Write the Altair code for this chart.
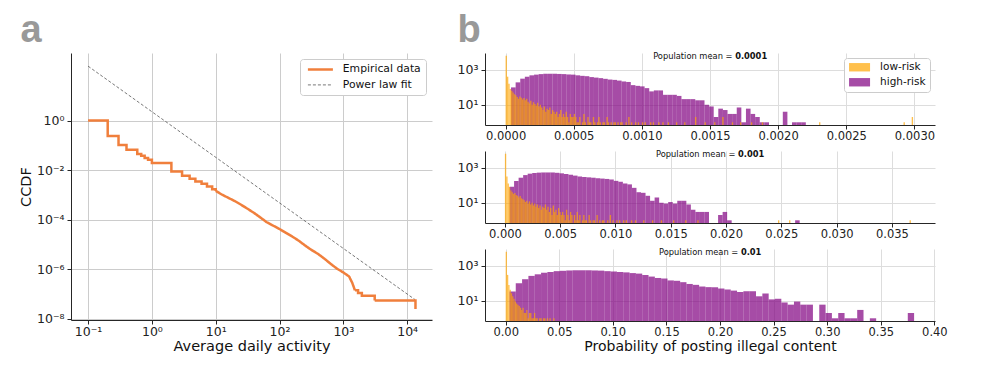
import altair as alt
import pandas as pd

FONT = "DejaVu Sans"

# ---------------- Panel a: CCDF of average daily activity ----------------
series_names = ["Empirical data", "Power law fit"]
emp_x = [0.1, 0.203, 0.30, 0.40, 0.59, 0.68, 0.77, 0.87, 1.0, 2.02, 2.97, 3.9, 4.8, 6.0, 7.3, 8.8,
         10, 12.6, 15.8, 20, 25, 31.6, 40, 50, 63, 79, 100, 126, 158, 200, 251, 316, 398, 501,
         631, 794, 1000, 1230, 1380, 1520, 1700, 1950, 3100, 13500]
emp_y = [1.0, 0.24, 0.104, 0.066, 0.045, 0.038, 0.031, 0.026, 0.0196, 0.0088, 0.006, 0.0045,
         0.0035, 0.0028, 0.0022, 0.0017,
         1.45e-3, 1.02e-3, 7.6e-4, 5.6e-4, 4.0e-4, 2.75e-4, 1.86e-4, 1.23e-4, 7.9e-5, 5.8e-5,
         4.2e-5, 2.95e-5, 2.1e-5, 1.41e-5, 9.1e-6, 6.0e-6, 4.2e-6, 2.7e-6, 1.66e-6, 1.05e-6,
         7.4e-7, 5.1e-7, 2.8e-7, 1.4e-7, 1.1e-7, 8.5e-8, 5.4e-8, 2.5e-8]
# activity range where the empirical CCDF is dense enough to look continuous
smooth_range = [10, 1520]
fit_x = [0.1, 13300]
fit_y = [158, 5.9e-8]
a_xticks = [0.1, 1, 10, 100, 1000, 10000]
a_yticks = [1e-8, 1e-6, 1e-4, 1e-2, 1]
panel_letters = ["a", "b"]

# ---------------- Panel b: histograms ----------------
risk_names = ["low-risk", "high-risk"]
means = ["0.0001", "0.001", "0.01"]
hi_start = [0.000040, 0.00042, 0.0035]
hi_width = [0.0000338, 0.00041, 0.0059]
hi_counts = [
    [98, 190, 309, 398, 479, 525, 562, 589, 589, 589,
     575, 562, 537, 525, 479, 447, 427, 380, 355, 331,
     302, 275, 263, 240, 214, 200, 132, 120, 112, 89,
     58, 66, 66, 37, 37, 37, 32, 21, 21, 21,
     18, 18, 10, 8, 2, 6, 5, 3, 3, 7,
     1, 6, 3, 2, 1, 1, 0, 0, 0, 4,
     0, 1, 1, 1],
    [81, 174, 269, 380, 457, 501, 525, 537, 537, 537,
     513, 479, 437, 398, 355, 316, 295, 282, 269, 251,
     240, 229, 214, 178, 158, 126, 112, 71, 40, 37,
     25, 13, 20, 10, 9, 11, 9, 13, 13, 8,
     4, 3, 3, 3, 0, 0, 2, 3, 1, 0,
     0, 0, 0, 0, 0, 0, 0, 0, 0, 0,
     0, 0, 0, 1],
    [34, 100, 170, 263, 324, 398, 437, 490, 513, 537,
     550, 550, 550, 537, 525, 490, 468, 437, 417, 380,
     355, 295, 240, 200, 186, 145, 138, 115, 91, 81,
     65, 60, 59, 50, 44, 38, 32, 35, 35, 18,
     26, 12, 13, 8, 6, 9, 6, 6, 0, 6,
     2, 1, 2, 1, 1, 3, 0, 1, 0, 0,
     0, 0, 0, 2],
]
lo_width = [0.00001, 0.00012, 0.0012]
lo_counts = [
    [6300, 400, 160, 80, 63, 50, 40, 35,
     28, 22, 30, 25, 20, 24, 18, 22,
     15, 12, 17, 10, 14, 11, 9, 13, 8, 10,
     7, 5, 8, 4, 6, 5, 7, 3, 5, 4,
     3, 4, 2, 3, 5, 2, 3, 2, 4, 2, 1, 3, 2, 2, 3,
     2, 1, 1, 2, 0, 1, 3, 1, 0, 2, 1, 1, 0, 2, 1, 0, 1, 2, 1, 0, 1, 1, 0, 2, 1, 0, 1, 0, 1, 1,
     0, 1, 0, 1, 1, 0, 0, 1, 0, 2, 0, 1, 0, 0, 1, 0, 1, 0, 0, 1,
     0, 1, 0, 0, 0, 1, 0, 1, 0, 0, 0, 1, 0, 0, 1, 0, 0, 0, 1, 0],
    [6300, 316, 126, 80, 50,
     40, 32, 36, 28,
     25, 20, 24, 18, 16,
     14, 11, 13, 9, 12, 8, 10,
     7, 9, 6, 8, 5, 7, 4, 6, 5, 8,
     4, 6, 3, 5, 2, 7, 3, 4, 2, 5, 3, 2,
     3, 2, 1, 4, 2, 1, 3, 2, 0, 2, 1, 3, 1, 2, 0, 1, 2, 1,
     1, 0, 2, 1, 0, 1, 1, 0, 2, 0, 1, 0, 1, 1, 0, 0, 1, 0, 2, 0, 1, 0, 0, 1, 0,
     1, 0, 0, 1, 0, 1, 0, 0, 0, 1, 0, 0, 1, 0, 0],
    [6300, 300, 80, 42, 27, 18, 13, 9, 7, 6, 5, 4, 3, 4, 2, 2, 3, 1, 2, 2,
     1, 1, 2, 1, 1, 0, 1, 1, 0, 1, 1, 0, 1, 0, 1, 0, 0, 1],
]
lo_tail = [
    [(0.00125, 1), (0.00131, 1), (0.00139, 2), (0.00146, 1), (0.00153, 1), (0.00159, 2),
     (0.00166, 1), (0.00172, 1), (0.0018, 1), (0.00188, 1), (0.0023, 1), (0.00292, 1), (0.00298, 2)],
    [(0.0125, 1), (0.0133, 1), (0.0141, 1), (0.0152, 1), (0.0163, 1), (0.0174, 1),
     (0.0247, 1), (0.0257, 1), (0.0366, 1)],
    [],
]
x_domains = [[-0.000151, 0.003151], [-0.0018, 0.0389], [-0.0193, 0.4006]]
x_ticks = [[0, 0.0005, 0.001, 0.0015, 0.002, 0.0025, 0.003],
           [0, 0.005, 0.01, 0.015, 0.02, 0.025, 0.03, 0.035],
           [0, 0.05, 0.1, 0.15, 0.2, 0.25, 0.3, 0.35, 0.4]]
x_formats = [".4f", ".3f", ".2f"]
b_yticks = [10, 1000]
b_ydomain = [0.7, 9000]

ORANGE_LINE = "#F07F3C"
GRAY_FIT = "#555555"
HIST_COLORS = ["#FFA500", "#800080"]
LETTER_COLOR = "#999999"

# superscript label expression for log axes
sup = {"-": "⁻", "0": "⁰", "1": "¹", "2": "²", "3": "³", "4": "⁴",
       "5": "⁵", "6": "⁶", "7": "⁷", "8": "⁸", "9": "⁹"}
expr = "toString(round(log(datum.value)/LN10))"
for k, v in sup.items():
    expr = f"replace({expr}, '{k}', '{v}')"
SUP_EXPR = "'10' + " + expr

# ---------------- build panel a ----------------
emp_df = pd.DataFrame({"x": emp_x, "y": emp_y, "series": series_names[0]})
fit_df = pd.DataFrame({"x": fit_x, "y": fit_y, "series": series_names[1]})

xa = alt.X("x:Q", scale=alt.Scale(type="log", domain=[0.054, 24500], nice=False),
           axis=alt.Axis(values=a_xticks, labelExpr=SUP_EXPR, title="Average daily activity",
                         grid=True, gridColor="#cccccc", labelFontSize=12.5, titleFontSize=14.5,
                         tickSize=4, labelPadding=1, titlePadding=2, labelFlush=False))
ya = alt.Y("y:Q", scale=alt.Scale(type="log", domain=[8.9e-9, 537], nice=False),
           axis=alt.Axis(values=a_yticks, labelExpr=SUP_EXPR, title="CCDF",
                         grid=True, gridColor="#cccccc", labelFontSize=12.5, titleFontSize=14.5,
                         tickSize=4, labelPadding=3, titlePadding=3, labelFlush=False))
# line sample drawn 25 px long from a small 5 px symbol box (keeps rows compact)
legend_a = alt.Legend(title=None, orient="top-right", offset=6, padding=5, rowPadding=3.5,
                      labelFontSize=10.8, labelFont=FONT, labelColor="#111111",
                      symbolType="M-1,0H9", symbolSize=25, labelOffset=27,
                      strokeColor="#cccccc", fillColor="#ffffff", cornerRadius=3)
col_a = alt.Color("series:N", scale=alt.Scale(domain=series_names, range=[ORANGE_LINE, GRAY_FIT]),
                  legend=legend_a)
dash_a = alt.StrokeDash("series:N", scale=alt.Scale(domain=series_names, range=[[1, 0], [3, 2]]))
sw_a = alt.StrokeWidth("series:N", scale=alt.Scale(type="point", domain=series_names,
                                                   range=[2.5, 0.8], padding=0))
enc_a = dict(x=xa, y=ya, color=col_a, strokeDash=dash_a, strokeWidth=sw_a)

fit_line = alt.Chart(fit_df).mark_line().encode(**enc_a)
emp_low = alt.Chart(emp_df).mark_line(interpolate="step-after").transform_filter(
    alt.datum.x <= smooth_range[0]).encode(**enc_a)
emp_mid = alt.Chart(emp_df).mark_line(strokeJoin="round").transform_filter(
    (alt.datum.x >= smooth_range[0]) & (alt.datum.x <= smooth_range[1])).encode(**enc_a)
emp_high = alt.Chart(emp_df).mark_line(interpolate="step-after").transform_filter(
    alt.datum.x >= smooth_range[1]).encode(**enc_a)
letter_a = alt.Chart(pd.DataFrame({"t": [panel_letters[0]]})).mark_text(
    align="left", baseline="alphabetic", fontSize=38, fontWeight="bold",
    font="Liberation Sans", color=LETTER_COLOR).encode(
    text="t:N", x=alt.value(-50.5), y=alt.value(-10.7))

panel_a = alt.layer(fit_line, emp_low, emp_mid, emp_high, letter_a).properties(width=361, height=267)

# ---------------- build panel b ----------------
def hist_frame(k):
    rows = []
    for i, c in enumerate(hi_counts[k]):
        if c > 0:
            x0 = hi_start[k] + i * hi_width[k]
            rows.append({"x0": x0, "x1": x0 + hi_width[k], "count": c, "risk": risk_names[1]})
    for i, c in enumerate(lo_counts[k]):
        if c > 0:
            x0 = i * lo_width[k]
            rows.append({"x0": x0, "x1": x0 + lo_width[k], "count": c, "risk": risk_names[0]})
    for v, c in lo_tail[k]:
        rows.append({"x0": v, "x1": v + lo_width[k], "count": c, "risk": risk_names[0]})
    return pd.DataFrame(rows)


# 21 x 8.4 px swatch drawn from an 8.4 px symbol box
legend_b = alt.Legend(title=None, orient="top-right", offset=5, padding=4, rowPadding=4,
                      labelFontSize=10.5, labelFont=FONT, labelColor="#111111",
                      symbolType="M-1,-1H4V1H-1Z", symbolSize=70.6, symbolOpacity=0.7,
                      symbolStrokeWidth=0, labelOffset=21.6,
                      strokeColor="#cccccc", fillColor="#ffffff", cornerRadius=3)

PW = 450
PH = 72
TFS = 8.3
SPACE = 0.318 * TFS


def text_width(s, bold=False):
    w = {"P": .603, "o": .612, "p": .635, "u": .634, "l": .278, "a": .613, "t": .392,
         "i": .278, "n": .634, " ": .318, "m": .974, "e": .615, "=": .838}
    if bold:
        return sum(.380 if ch == "." else .696 for ch in s) * TFS
    return sum(w.get(ch, .6) for ch in s) * TFS


def panel_b(k):
    df = hist_frame(k)
    if k == 0:
        color = alt.Color("risk:N", scale=alt.Scale(domain=risk_names, range=HIST_COLORS),
                          legend=legend_b)
    else:
        color = alt.Color("risk:N", scale=alt.Scale(domain=risk_names, range=HIST_COLORS),
                          legend=None)
    axis_kw = dict(values=x_ticks[k], format=x_formats[k], labelFontSize=11.5, tickSize=4,
                   labelPadding=1, labelFlush=False)
    if k == 2:
        axis_kw.update(title="Probability of posting illegal content", titleFontSize=14,
                       titlePadding=2)
    else:
        axis_kw.update(title=None)
    bars = alt.Chart(df).mark_rect(opacity=0.7).encode(
        x=alt.X("x0:Q", scale=alt.Scale(domain=x_domains[k], nice=False, zero=False),
                axis=alt.Axis(**axis_kw)),
        x2="x1:Q",
        y=alt.Y("count:Q", scale=alt.Scale(type="log", domain=b_ydomain, nice=False),
                axis=alt.Axis(values=b_yticks, labelExpr=SUP_EXPR, title=None,
                              labelFontSize=12.5, tickSize=4, labelPadding=3)),
        y2=alt.datum(b_ydomain[0]),
        color=color,
    )
    prefix = "Population mean ="
    nw = text_width(prefix)
    bw = text_width(means[k], bold=True)
    start = PW / 2 - (nw + SPACE + bw) / 2
    split = start + nw
    t_norm = alt.Chart(pd.DataFrame({"t": [prefix]})).mark_text(
        align="right", baseline="middle", fontSize=TFS, font=FONT, color="#111111").encode(
        text="t:N", x=alt.value(split), y=alt.value(4))
    t_bold = alt.Chart(pd.DataFrame({"t": [means[k]]})).mark_text(
        align="left", baseline="middle", fontSize=TFS, font=FONT, fontWeight="bold",
        color="#111111").encode(text="t:N", x=alt.value(split + SPACE), y=alt.value(4))
    layers = [bars, t_norm, t_bold]
    if k == 0:
        letter_b = alt.Chart(pd.DataFrame({"t": [panel_letters[1]]})).mark_text(
            align="left", baseline="alphabetic", fontSize=38, fontWeight="bold",
            font="Liberation Sans", color=LETTER_COLOR).encode(
            text="t:N", x=alt.value(-27.5), y=alt.value(-11))
        layers.append(letter_b)
    return alt.layer(*layers).properties(width=PW, height=PH)


right = alt.vconcat(panel_b(0), panel_b(1), panel_b(2), spacing=26,
                    bounds="flush").resolve_scale(color="independent")

chart = alt.hconcat(panel_a, right, spacing=53, bounds="flush").resolve_scale(
    color="independent", strokeDash="independent", strokeWidth="independent"
).properties(
    padding={"left": 10, "top": 4, "right": 5, "bottom": 5}
).configure_view(stroke=None).configure_axis(
    domainColor="#262626", tickColor="#262626", labelColor="#222222", titleColor="#111111",
    labelFont=FONT, titleFont=FONT, titleFontWeight="normal", domainWidth=1, tickWidth=1,
)

chart.save("out.html", embed_options={"renderer": "svg", "actions": False})
